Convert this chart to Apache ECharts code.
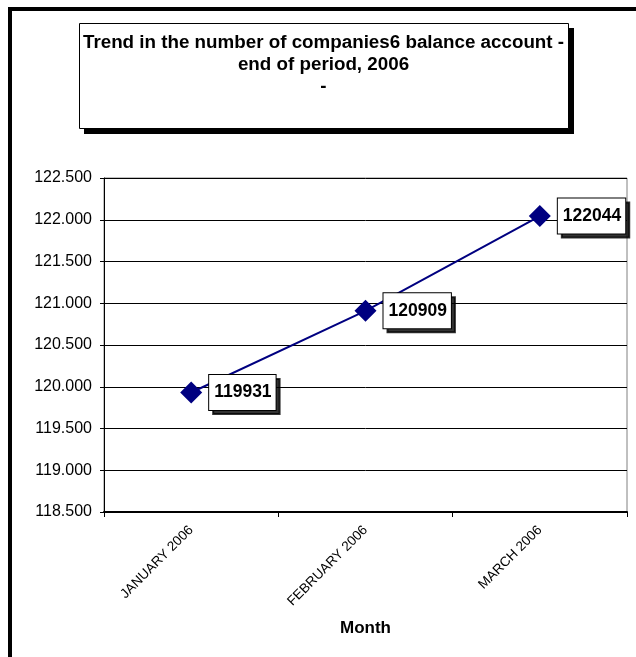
<!DOCTYPE html>
<html>
<head>
<meta charset="utf-8">
<script src="https://cdn.jsdelivr.net/npm/echarts@6/dist/echarts.min.js"></script>
<style>
html,body{margin:0;padding:0;background:#fff;}
#chart{width:636px;height:657px;}
</style>
</head>
<body>
<div id="chart"></div>
<script>
const titleLines = ["Trend in the number of companies6 balance account -", "end of period, 2006", "-"];
const categories = ["JANUARY 2006", "FEBRUARY 2006", "MARCH 2006"];
const values = [119931, 120909, 122044];
const yMin = 118500, yMax = 122500, yStep = 500;
const xAxisName = "Month";

const FONT = '"Liberation Sans", Arial, sans-serif';
function fmt(v) {
  const t = Math.floor(v / 1000), r = Math.round(v % 1000);
  return t + '.' + String(r).padStart(3, '0');
}
const labelBase = {
  show: true,
  position: 'right',
  distance: 7,
  formatter: p => String(p.value),
  fontFamily: FONT, fontWeight: 'bold', fontSize: 17.5,
  lineHeight: 19,
  padding: [8, 4, 8, 5],
  borderWidth: 1
};

const chart = echarts.init(document.getElementById('chart'), null, {renderer: 'canvas'});
chart.setOption({
  backgroundColor: '#fff',
  animation: false,
  textStyle: {fontFamily: FONT},
  grid: {left: 104, right: 9, top: 178, bottom: 145, show: true, borderColor: '#808080', borderWidth: 1, backgroundColor: 'transparent'},
  graphic: [
    {type: 'polyline', z: 100, shape: {points: [[10, 700], [10, 9], [700, 9]]}, style: {stroke: '#000', lineWidth: 4, fill: null}},
    {type: 'rect', z: 89, shape: {x: 84, y: 28, width: 490, height: 106}, style: {fill: '#000'}},
    {type: 'rect', z: 90, shape: {x: 79.5, y: 23.5, width: 489, height: 105},
      style: {fill: '#fff', stroke: '#000', lineWidth: 1}},
    {type: 'text', z: 95, x: 323.5, y: 32,
      style: {text: titleLines.join('\n'), fill: '#000', font: 'bold 18.8px ' + FONT, textAlign: 'center', textVerticalAlign: 'top', lineHeight: 22, align: 'center', verticalAlign: 'top'}}
  ],
  xAxis: {
    type: 'category',
    data: categories,
    boundaryGap: true,
    name: xAxisName,
    nameLocation: 'middle',
    nameGap: 108,
    nameTextStyle: {fontFamily: FONT, fontWeight: 'bold', fontSize: 17, color: '#000'},
    axisLine: {lineStyle: {color: '#000', width: 2}},
    axisTick: {show: true, alignWithLabel: false, length: 5, lineStyle: {color: '#000', width: 1}},
    axisLabel: {rotate: 45, fontSize: 13.5, color: '#000', fontFamily: FONT, margin: 16, interval: 0},
    splitLine: {show: false}
  },
  yAxis: {
    type: 'value',
    min: yMin, max: yMax, interval: yStep,
    axisLine: {show: true, lineStyle: {color: '#000', width: 1}},
    axisTick: {show: true, length: 4, lineStyle: {color: '#000'}},
    axisLabel: {fontSize: 16, color: '#000', fontFamily: FONT, margin: 12, formatter: fmt},
    splitLine: {show: true, lineStyle: {color: '#000', width: 1}}
  },
  series: [
    {
      type: 'scatter',
      data: values,
      symbolSize: 22,
      symbol: 'diamond',
      itemStyle: {color: 'rgba(0,0,0,0)'},
      silent: true,
      label: Object.assign({}, labelBase, {color: '#000', backgroundColor: '#000', borderColor: '#000', offset: [4, 4]}),
      z: 5
    },
    {
      type: 'line',
      data: values,
      symbol: 'diamond',
      symbolSize: 22,
      lineStyle: {color: '#000080', width: 2},
      itemStyle: {color: '#000080'},
      label: Object.assign({}, labelBase, {color: '#000', backgroundColor: '#fff', borderColor: '#000'}),
      z: 10
    }
  ]
});
</script>
</body>
</html>
